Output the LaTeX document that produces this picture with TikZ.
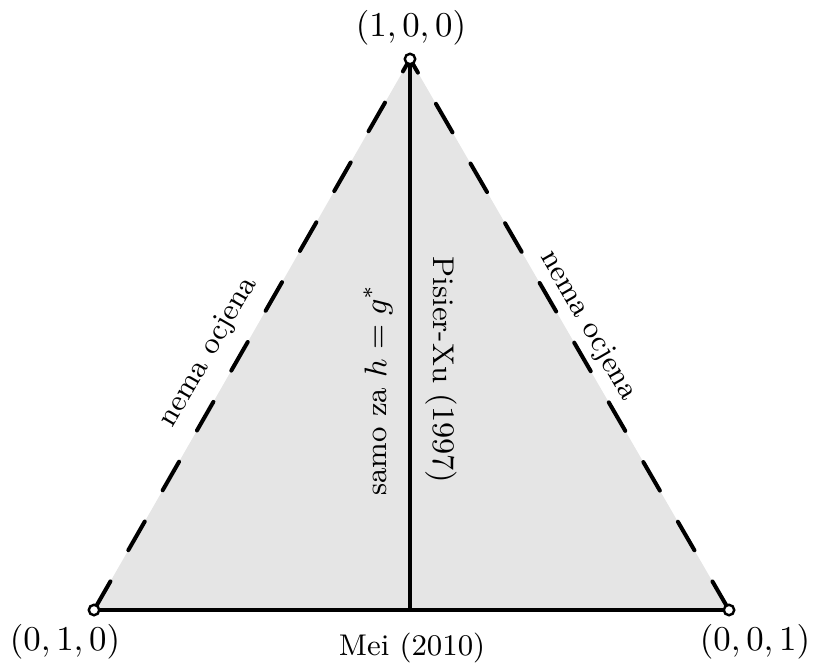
\documentclass[tikz,border=0pt]{standalone}
\usepackage{amsmath}

\tikzset{
  rub/.style={dash pattern=on 9.47pt off 10.33pt,line cap=round},
  vrh/.style={circle,draw,fill=white,inner sep=0pt,minimum size=3pt,line width=.7pt},
  oznaka/.style={inner sep=1pt},
  tekst/.style={inner sep=1pt,font=\fontsize{8.6}{10}\selectfont}
}

\begin{document}
\begin{tikzpicture}[x=0.287pt,y=-0.287pt,line width=1.15pt]
\path[use as bounding box] (0,0) rectangle (813,664);
% vrhovi trokuta
\coordinate (A) at (410,59);
\coordinate (B) at (94,610);
\coordinate (C) at (729,610);
\coordinate (M) at (410,610);
\fill[gray!20] (A) -- (B) -- (C) -- cycle;
\draw[rub] (B) -- (A);
\draw[rub] (C) -- (A);
\draw (B) -- (C);
\draw (A) -- (M);
\node[vrh] (vA) at (A) {};
\node[vrh] (vB) at (B) {};
\node[vrh] (vC) at (C) {};
% oznake
\node[oznaka] (lA) at (411,28) {$(1,0,0)$};
\node[oznaka] (lB) at (65,642) {$(0,1,0)$};
\node[oznaka] (lC) at (755,642) {$(0,0,1)$};
\node[tekst] (mei) at (412,648) {Mei (2010)};
\node[tekst,rotate=90] (samo) at (378,390) {samo za $h=g^*$};
\node[tekst,rotate=-90] (pisier) at (441,370) {Pisier-Xu $(1997)$};
\node[tekst,rotate=60] (lijevo) at (209,352) {nema ocjena};
\node[tekst,rotate=-60] (desno) at (588,326) {nema ocjena};
\end{tikzpicture}
\end{document}
